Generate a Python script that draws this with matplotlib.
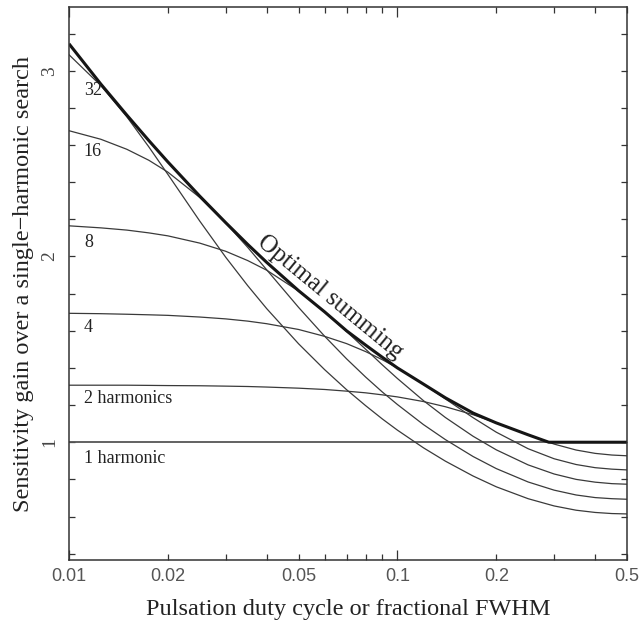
'''
Sensitivity gain of incoherent harmonic summing vs pulse duty cycle.
'''

import matplotlib.pyplot as plt
from matplotlib.ticker import FixedLocator, FixedFormatter

# duty cycle grid (fractional FWHM)
duty = [0.01, 0.0125, 0.015, 0.0175, 0.02, 0.025, 0.03, 0.035, 0.04, 0.05,
        0.06, 0.07, 0.08, 0.09, 0.1, 0.12, 0.14, 0.17, 0.2, 0.25,
        0.3, 0.35, 0.4, 0.45, 0.5]

# gain curves for a given number of summed harmonics
h1 = [1.0] * len(duty)
h2 = [1.307, 1.307, 1.307, 1.306, 1.305, 1.304, 1.302, 1.300, 1.297, 1.291,
      1.284, 1.275, 1.266, 1.255, 1.244, 1.219, 1.191, 1.148, 1.104, 1.040,
      0.990, 0.958, 0.940, 0.931, 0.927]
h4 = [1.694, 1.692, 1.689, 1.686, 1.683, 1.674, 1.664, 1.652, 1.638, 1.607,
      1.570, 1.531, 1.488, 1.444, 1.400, 1.313, 1.233, 1.132, 1.054, 0.965,
      0.911, 0.880, 0.863, 0.855, 0.851]
h8 = [2.165, 2.154, 2.142, 2.127, 2.111, 2.072, 2.028, 1.978, 1.926, 1.814,
      1.702, 1.596, 1.501, 1.416, 1.343, 1.224, 1.133, 1.032, 0.959, 0.878,
      0.829, 0.800, 0.785, 0.777, 0.774]
h16 = [2.677, 2.631, 2.577, 2.518, 2.454, 2.318, 2.180, 2.049, 1.928, 1.726,
       1.571, 1.449, 1.351, 1.270, 1.203, 1.095, 1.014, 0.923, 0.858, 0.786,
       0.742, 0.716, 0.702, 0.696, 0.693]
h32 = [3.086, 2.920, 2.752, 2.590, 2.442, 2.191, 1.996, 1.843, 1.719, 1.530,
       1.391, 1.283, 1.197, 1.125, 1.065, 0.970, 0.898, 0.818, 0.760, 0.696,
       0.657, 0.634, 0.622, 0.616, 0.614]

# optimal number of harmonics (envelope)
opt_duty = [0.01, 0.0125, 0.015, 0.0175, 0.02, 0.025, 0.03, 0.035, 0.04, 0.05,
            0.06, 0.07, 0.08, 0.09, 0.1, 0.12, 0.14, 0.17, 0.2, 0.25,
            0.289, 0.3, 0.35, 0.4, 0.45, 0.5]
opt = [3.145, 2.928, 2.761, 2.624, 2.509, 2.325, 2.182, 2.065, 1.968, 1.816,
       1.702, 1.600, 1.523, 1.457, 1.400, 1.313, 1.239, 1.157, 1.104, 1.040,
       1.0, 1.0, 1.0, 1.0, 1.0, 1.0]

curve_labels = ['32', '16', '8', '4', '2 harmonics', '1 harmonic']
label_y = [2.870, 2.541, 2.051, 1.593, 1.210, 0.887]

plt.rcParams['font.family'] = 'Liberation Serif'
fig = plt.figure(figsize=(6.39, 6.23), dpi=100)
ax = fig.add_axes([69/639, 1 - 560/623, 558/639, 553/623])

ax.plot(duty, h1, color='#555555', lw=1.3)
for h in [h2, h4, h8, h16, h32]:
    ax.plot(duty, h, color='#3a3a3a', lw=0.9)
ax.plot(opt_duty, opt, color='#151515', lw=2.2, solid_capstyle='butt')

for txt, yy in zip(curve_labels, label_y):
    ax.text(0.0111, yy, txt, fontsize=13, color='#222222', va='baseline', ha='left')

ax.text(0.0624, 1.781, 'Optimal summing', fontsize=18, color='#222222',
        rotation=-39.5, rotation_mode='anchor', ha='center', va='center')

ax.set_xscale('log')
ax.set_xlim(0.01, 0.5)
ax.set_ylim(0.366, 3.343)

# x ticks: decades long, the rest short
ax.xaxis.set_major_locator(FixedLocator([0.01, 0.1]))
ax.xaxis.set_major_formatter(FixedFormatter(['0.01', '0.1']))
xminor = [0.02, 0.03, 0.04, 0.05, 0.06, 0.07, 0.08, 0.09, 0.2, 0.3, 0.4, 0.5]
ax.xaxis.set_minor_locator(FixedLocator(xminor))
ax.xaxis.set_minor_formatter(FixedFormatter(['0.02', '', '', '0.05', '', '', '', '',
                                             '0.2', '', '', '0.5']))
ax.yaxis.set_major_locator(FixedLocator([1, 2, 3]))
ax.yaxis.set_major_formatter(FixedFormatter(['1', '2', '3']))
ax.yaxis.set_minor_locator(FixedLocator([0.4, 0.6, 0.8, 1.2, 1.4, 1.6, 1.8, 2.2,
                                         2.4, 2.6, 2.8, 3.2]))

ax.tick_params(which='both', direction='in', top=True, right=True,
               color='#333333', width=0.9)
ax.tick_params(axis='x', which='major', length=7)
ax.tick_params(axis='x', which='minor', length=4)
ax.tick_params(axis='y', which='both', length=4)
ax.tick_params(axis='x', which='both', labelsize=13, labelcolor='#555555',
               labelfontfamily='Liberation Sans', pad=6)
ax.tick_params(axis='y', which='major', labelsize=14, labelcolor='#444444',
               labelrotation=90, pad=8)
for lab in ax.get_yticklabels():
    lab.set_va('center')

for sp in ax.spines.values():
    sp.set_color('#333333')
    sp.set_linewidth(1.1)

ax.set_xlabel('Pulsation duty cycle or fractional FWHM', fontsize=17.5,
              color='#222222', labelpad=10)
ax.set_ylabel('Sensitivity gain over a single\u2212harmonic search', fontsize=17.5,
              color='#222222', labelpad=5)

plt.savefig('out.png')
